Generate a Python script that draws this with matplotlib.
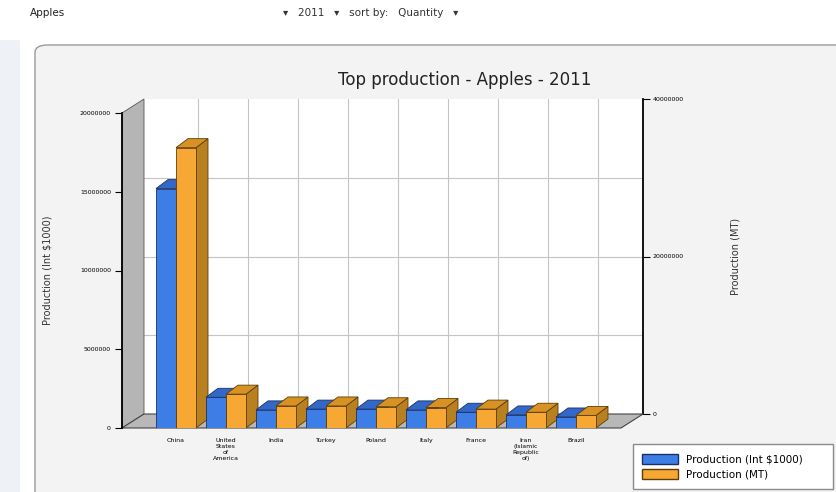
import matplotlib
matplotlib.use("Agg")
import matplotlib.pyplot as plt
from matplotlib.patches import Polygon, FancyBboxPatch, Patch, Rectangle

# data
countries = ["China", "United\nStates\nof\nAmerica", "India", "Turkey", "Poland",
             "Italy", "France", "Iran\n(Islamic\nRepublic\nof)", "Brazil"]
value_int = [15200000, 1950000, 1150000, 1200000, 1200000, 1150000, 1000000, 830000, 700000]
value_mt = [35600000, 4300000, 2800000, 2800000, 2700000, 2600000, 2400000, 2000000, 1600000]
left_ticks = [0, 5000000, 10000000, 15000000, 20000000]
right_ticks = [0, 20000000, 40000000]
right_grid = [0, 10000000, 20000000, 30000000, 40000000]

W, H = 836, 492
fig = plt.figure(figsize=(W / 100, H / 100), dpi=100)
fig.patch.set_facecolor("white")


def box(l, t, r, b):
    return [l / W, 1 - b / H, (r - l) / W, (b - t) / H]


# page furniture
fig.patches.append(Rectangle((0, 0), 20 / W, 1 - 40 / H, transform=fig.transFigure,
                             facecolor="#eef1f6", edgecolor="none", zorder=-2))
fig.patches.append(FancyBboxPatch((35 / W, -0.05), 1.0, (492 - 45) / H + 0.05,
                                  boxstyle="round,pad=0,rounding_size=0.015",
                                  transform=fig.transFigure, facecolor="#f3f3f3",
                                  edgecolor="#9a9a9a", lw=1, zorder=-2))
fig.text(30 / W, 1 - 13 / H, "Apples", fontsize=7.5, va="center", color="#222222")
fig.text(283 / W, 1 - 13 / H, "▾   2011   ▾   sort by:   Quantity   ▾",
         fontsize=7.5, va="center", color="#333333")
fig.text(465 / W, 1 - 80 / H, "Top production - Apples - 2011", fontsize=12,
         ha="center", va="center", color="#222222")

xmin, xmax = -1.08, 8.9
L, T, R, B = 122, 113, 621, 428
WX, WY = 22, 14      # wall depth (px)
BX, BY = 12, 9       # bar depth (px)

# back wall with the right axis
axb = fig.add_axes(box(L + WX, T - WY, R + WX, B - WY))
axb.set_zorder(1)
axb.set_xlim(xmin, xmax)
axb.set_ylim(right_grid[0], right_grid[-1])
axb.set_facecolor("white")
axb.set_xticks(range(len(countries)))
axb.tick_params(axis="x", length=0, labelbottom=False)
for s in ["left", "top", "bottom"]:
    axb.spines[s].set_visible(False)
axb.spines["right"].set_linewidth(1.3)
axb.spines["right"].set_zorder(5)
axb.yaxis.tick_right()
axb.set_yticks(right_ticks)
axb.set_yticklabels([str(v) for v in right_ticks])
axb.tick_params(axis="y", labelsize=4.5, length=5, pad=2)
axb.yaxis.set_label_position("right")
axb.set_ylabel("Production (MT)", fontsize=7, rotation=90, color="#333333")
axb.yaxis.set_label_coords((730 - L - WX) / (R - L), 0.5)
# wall grid
for x in range(len(countries)):
    axb.axvline(x, color="#c4c4c4", lw=0.8, zorder=0.5)
for y in right_grid[1:-1]:
    axb.axhline(y, color="#c4c4c4", lw=0.8, zorder=0.5)

# front plane
ax = fig.add_axes(box(L, T, R, B))
ax.set_zorder(2)
ax.set_xlim(xmin, xmax)
ax.set_ylim(left_ticks[0], left_ticks[-1])
ax.set_facecolor("none")
for s in ["right", "top", "bottom"]:
    ax.spines[s].set_visible(False)
ax.spines["left"].set_linewidth(1.3)
ax.spines["left"].set_zorder(6)
ax.set_yticks(left_ticks)
ax.set_yticklabels([str(v) for v in left_ticks])
ax.tick_params(axis="y", labelsize=4.5, length=5, pad=3)
ax.set_xticks(range(len(countries)))
ax.set_xticklabels(countries, fontsize=4.5, va="top", linespacing=1.3)
ax.tick_params(axis="x", length=0, pad=7)
ax.set_ylabel("Production (Int \\$1000)", fontsize=7, color="#333333")
ax.yaxis.set_label_coords((52 - L) / (R - L), 0.5)

sx = (R - L) / (xmax - xmin)
sy = (B - T) / (left_ticks[-1] - left_ticks[0])
wdx, wdy = WX / sx, WY / sy
bdx, bdy = BX / sx, BY / sy
top = left_ticks[-1]

# left wall and floor
ax.add_patch(Polygon([(xmin, 0), (xmin + wdx, wdy), (xmin + wdx, top + wdy), (xmin, top)],
                     closed=True, facecolor="#b5b5b5", edgecolor="#555555", lw=0.6,
                     zorder=1, clip_on=False))
ax.add_patch(Polygon([(xmin, 0), (xmax, 0), (xmax + wdx, wdy), (xmin + wdx, wdy)],
                     closed=True, facecolor="#b8b8b8", edgecolor="#444444", lw=0.8,
                     zorder=1, clip_on=False))

scale = (left_ticks[-1] - left_ticks[0]) / (right_ticks[-1] - right_ticks[0])


def bar3d(x0, w, h, front, side, cap, edge, z):
    ax.bar(x0, h, w, align="edge", color=front, edgecolor=edge, lw=0.6, zorder=z + 0.002)
    ax.add_patch(Polygon([(x0 + w, 0), (x0 + w + bdx, bdy), (x0 + w + bdx, h + bdy), (x0 + w, h)],
                         closed=True, facecolor=side, edgecolor=edge, lw=0.6, zorder=z,
                         clip_on=False))
    ax.add_patch(Polygon([(x0, h), (x0 + w, h), (x0 + w + bdx, h + bdy), (x0 + bdx, h + bdy)],
                         closed=True, facecolor=cap, edgecolor=edge, lw=0.6, zorder=z + 0.001,
                         clip_on=False))


bw = 0.4
for i in range(len(countries)):
    z = 3 + i * 0.1
    bar3d(i - bw, bw, value_int[i], "#3d7ee6", "#2a58b0", "#3268c8", "#1b2f66", z)
    bar3d(i, bw, value_mt[i] * scale, "#f7a733", "#b9801f", "#d79223", "#5c3d08", z + 0.05)

fig.legend(handles=[Patch(facecolor="#3d7ee6", edgecolor="#1b2f66"),
                    Patch(facecolor="#f7a733", edgecolor="#5c3d08")],
           labels=["Production (Int \\$1000)", "Production (MT)"],
           loc="lower left", bbox_to_anchor=(633 / W, 3 / H, 200 / W, 44 / H),
           mode="expand", fontsize=7.5,
           frameon=True, fancybox=False, edgecolor="#8a8a8a", framealpha=1,
           borderpad=0.9, handlelength=3.4, handleheight=1.1, labelspacing=0.45,
           borderaxespad=0)

fig.savefig("out.png", dpi=100)
